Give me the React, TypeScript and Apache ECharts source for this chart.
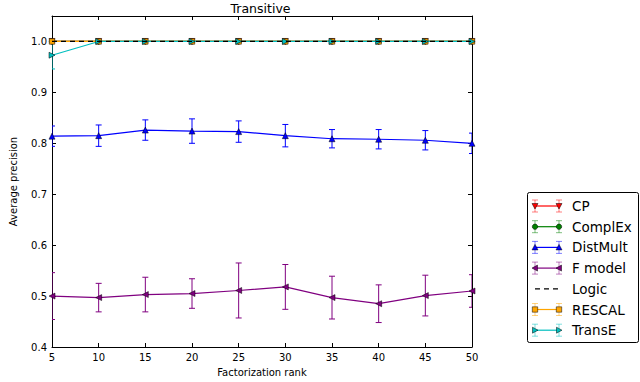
import React, { useEffect, useRef } from "react";
import * as echarts from "echarts";

const ranks = [5, 10, 15, 20, 25, 30, 35, 40, 45, 50];
const cpMean = [1, 1, 1, 1, 1, 1, 1, 1, 1, 1];
const cpErr = [0, 0, 0, 0, 0, 0, 0, 0, 0, 0];
const complexMean = [1, 1, 1, 1, 1, 1, 1, 1, 1, 1];
const complexErr = [0, 0, 0, 0, 0, 0, 0, 0, 0, 0];
const distMultMean = [0.814, 0.815, 0.826, 0.824, 0.823, 0.815, 0.809, 0.808, 0.806, 0.8];
const distMultErr = [0.02, 0.021, 0.02, 0.024, 0.021, 0.022, 0.018, 0.019, 0.019, 0.02];
const fModelMean = [0.5, 0.497, 0.503, 0.505, 0.511, 0.518, 0.497, 0.485, 0.501, 0.51];
const fModelErr = [0.046, 0.028, 0.034, 0.029, 0.054, 0.044, 0.042, 0.037, 0.04, 0.032];
const logicMean = [1, 1, 1, 1, 1, 1, 1, 1, 1, 1];
const rescalMean = [1, 1, 1, 1, 1, 1, 1, 1, 1, 1];
const rescalErr = [0, 0, 0, 0, 0, 0, 0, 0, 0, 0];
const transEMean = [0.973, 1, 1, 1, 1, 1, 1, 1, 1, 1];
const transEErr = [0.027, 0, 0, 0, 0, 0, 0, 0, 0, 0];
const yTicks = [0.4, 0.5, 0.6, 0.7, 0.8, 0.9, 1.0];

const FONT = "DejaVu Sans";

type S = {
  name: string;
  color: string;
  mean: number[];
  err: number[] | null;
  marker: string | null;
  rotate: number;
  dashed?: boolean;
};

const seriesDefs: S[] = [
  { name: "CP", color: "#ff0000", mean: cpMean, err: cpErr, marker: "tri", rotate: 180 },
  { name: "ComplEx", color: "#008000", mean: complexMean, err: complexErr, marker: "circle", rotate: 0 },
  { name: "DistMult", color: "#0000ff", mean: distMultMean, err: distMultErr, marker: "tri", rotate: 0 },
  { name: "F model", color: "#800080", mean: fModelMean, err: fModelErr, marker: "tri", rotate: 90 },
  { name: "Logic", color: "#000000", mean: logicMean, err: null, marker: null, rotate: 0, dashed: true },
  { name: "RESCAL", color: "#ffa500", mean: rescalMean, err: rescalErr, marker: "rect", rotate: 0 },
  { name: "TransE", color: "#00bfbf", mean: transEMean, err: transEErr, marker: "tri", rotate: -90 },
];

const drawOrder = ["CP", "ComplEx", "DistMult", "F model", "RESCAL", "TransE", "Logic"];

function legendMarker(kind: string | null, rotate: number, cx: number, cy: number, color: string) {
  const st = { fill: color, stroke: "#000", lineWidth: 0.5 };
  if (!kind) return [];
  if (kind === "circle") return [{ type: "circle", shape: { cx, cy, r: 2.7 }, style: st }];
  if (kind === "rect") return [{ type: "rect", shape: { x: cx - 2.7, y: cy - 2.7, width: 5.4, height: 5.4 }, style: st }];
  let pts: number[][];
  if (rotate === 180) pts = [[cx - 3, cy - 2.5], [cx + 3, cy - 2.5], [cx, cy + 3]];
  else if (rotate === 90) pts = [[cx - 3, cy], [cx + 2.5, cy - 3], [cx + 2.5, cy + 3]];
  else if (rotate === -90) pts = [[cx + 3, cy], [cx - 2.5, cy - 3], [cx - 2.5, cy + 3]];
  else pts = [[cx - 3, cy + 2.5], [cx + 3, cy + 2.5], [cx, cy - 3]];
  return [{ type: "polygon", shape: { points: pts }, style: st }];
}

export default function App() {
  const ref = useRef<HTMLDivElement>(null);
  useEffect(() => {
    if (!ref.current) return;
    const chart = echarts.init(ref.current, null, { renderer: "svg" });

    const series: any[] = [];
    seriesDefs.forEach((d) => {
      if (d.err) {
        const errData = ranks.map((r, i) => [r, d.mean[i], d.err![i]]);
        series.push({
          type: "custom",
          name: d.name + " err",
          xAxisIndex: 0,
          yAxisIndex: 0,
          clip: true,
          z: 2,
          encode: { x: 0, y: 1 },
          data: errData,
          renderItem: (params: any, api: any) => {
            const x = api.value(0);
            const m = api.value(1);
            const e = api.value(2);
            if (!e) return null;
            const t = api.coord([x, m + e]);
            const b = api.coord([x, m - e]);
            const st = { stroke: d.color, lineWidth: 1 };
            return {
              type: "group",
              children: [
                { type: "line", shape: { x1: t[0], y1: t[1], x2: b[0], y2: b[1] }, style: st },
                { type: "line", shape: { x1: t[0] - 3, y1: t[1], x2: t[0] + 3, y2: t[1] }, style: st },
                { type: "line", shape: { x1: b[0] - 3, y1: b[1], x2: b[0] + 3, y2: b[1] }, style: st },
              ],
            };
          },
        });
      }
    });
    drawOrder.forEach((n, k) => {
      const d = seriesDefs.find((s) => s.name === n)!;
      series.push({
        type: "line",
        name: d.name,
        xAxisIndex: 0,
        yAxisIndex: 0,
        z: 3 + k,
        data: ranks.map((r, i) => [r, d.mean[i]]),
        showSymbol: !!d.marker,
        symbol: d.marker === "tri" ? "triangle" : d.marker === "rect" ? "rect" : "circle",
        symbolSize: d.marker === "tri" ? 6 : 5.5,
        symbolRotate: d.rotate,
        itemStyle: { color: d.color, borderColor: "#000", borderWidth: 0.5 },
        lineStyle: { color: d.color, width: 1.2, type: d.dashed ? [5, 4] : "solid" },
        clip: true,
      });
    });

    // legend built from series definitions
    const lx0 = 535, lx1 = 559, tx = 572, ly0 = 206, dy = 20.7;
    const legendChildren: any[] = [
      {
        type: "rect",
        shape: { x: 527.5, y: 192.5, width: 111, height: 150, r: 2 },
        style: { fill: "#fff", stroke: "#000", lineWidth: 1 },
      },
    ];
    seriesDefs.forEach((d, i) => {
      const y = ly0 + i * dy;
      legendChildren.push({
        type: "line",
        shape: { x1: lx0, y1: y, x2: lx1, y2: y },
        style: { stroke: d.color, lineWidth: 1.2, lineDash: d.dashed ? [5, 4] : null },
      });
      if (d.err) {
        [lx0, lx1].forEach((x) => {
          const st = { stroke: d.color, lineWidth: 1, opacity: 0.5 };
          legendChildren.push(
            { type: "line", shape: { x1: x, y1: y - 6, x2: x, y2: y + 6 }, style: st },
            { type: "line", shape: { x1: x - 3, y1: y - 6, x2: x + 3, y2: y - 6 }, style: st },
            { type: "line", shape: { x1: x - 3, y1: y + 6, x2: x + 3, y2: y + 6 }, style: st }
          );
        });
      }
      [lx0, lx1].forEach((x) => {
        legendMarker(d.marker, d.rotate, x, y, d.color).forEach((m) => legendChildren.push(m));
      });
      legendChildren.push({
        type: "text",
        x: tx,
        y: y,
        style: { text: d.name, fill: "#000", font: `13.5px "${FONT}"`, verticalAlign: "middle", align: "left" },
      });
    });

    const axisCommon = {
      axisLine: { show: true, lineStyle: { color: "#000", width: 1 } },
      axisTick: { show: true, inside: true, length: 4, lineStyle: { color: "#000" } },
      splitLine: { show: false },
    };

    chart.setOption({
      animation: false,
      backgroundColor: "#fff",
      textStyle: { fontFamily: FONT },
      title: {
        text: "Transitive",
        left: 255.5,
        textAlign: "center",
        top: -3,
        textStyle: { fontFamily: FONT, fontSize: 12.5, fontWeight: "normal", color: "#000" },
      },
      grid: { left: 39, right: 168, top: 16, bottom: 31 },
      xAxis: [
        {
          type: "value",
          min: 5,
          max: 50,
          interval: 5,
          name: "Factorization rank",
          nameLocation: "middle",
          nameGap: 20,
          nameTextStyle: { fontFamily: FONT, fontSize: 10, color: "#000" },
          axisLabel: { color: "#000", fontSize: 10, fontFamily: FONT, margin: 5 },
          ...axisCommon,
        },
        {
          type: "value",
          position: "top",
          min: 5,
          max: 50,
          interval: 5,
          axisLabel: { show: false },
          ...axisCommon,
        },
      ],
      yAxis: [
        {
          type: "value",
          min: 0.4,
          max: 1.05,
          interval: 0.1,
          name: "Average precision",
          nameLocation: "middle",
          nameGap: 34,
          nameTextStyle: { fontFamily: FONT, fontSize: 10, color: "#000" },
          axisLabel: {
            color: "#000",
            fontSize: 10,
            fontFamily: FONT,
            margin: 5,
            showMaxLabel: false,
            formatter: (v: number) => (yTicks.some((t) => Math.abs(t - v) < 1e-6) ? v.toFixed(1) : ""),
          },
          ...axisCommon,
        },
        {
          type: "value",
          position: "right",
          min: 0.4,
          max: 1.05,
          interval: 0.1,
          axisLabel: { show: false },
          ...axisCommon,
        },
      ],
      graphic: { elements: [{ type: "group", children: legendChildren }] },
      series,
    });
    return () => chart.dispose();
  }, []);
  return (
    <div
      ref={ref}
      style={{ position: "fixed", left: 0, top: 0, width: 640, height: 382, background: "#fff" }}
    />
  );
}
